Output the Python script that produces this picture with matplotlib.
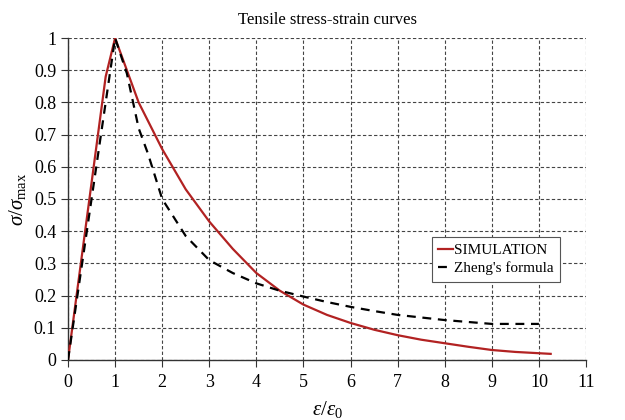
import numpy as np
import matplotlib
matplotlib.use('Agg')
import matplotlib.pyplot as plt

plt.rcParams['font.family'] = ['Liberation Serif', 'DejaVu Serif']
plt.rcParams['mathtext.fontset'] = 'custom'
plt.rcParams['mathtext.rm'] = 'Liberation Serif'
plt.rcParams['mathtext.it'] = 'Liberation Serif:italic'

# simulation curve
sim_x = [0, 0.8, 1.0, 1.25, 1.5, 2.0, 2.5, 3.0, 3.5, 4.0, 4.5, 5.0, 5.5, 6.0,
         6.5, 7.0, 7.5, 8.0, 8.5, 9.0, 9.5, 10.0, 10.25]
sim_y = [0, 0.88, 1.0, 0.9, 0.8, 0.655, 0.53, 0.43, 0.345, 0.27, 0.215,
         0.172, 0.14, 0.115, 0.094, 0.077, 0.063, 0.052, 0.041, 0.031,
         0.025, 0.021, 0.019]

# Zheng's formula
zh_x = [0, 0.5, 1.0, 1.25, 1.5, 1.7, 2.0, 2.5, 3.0, 3.5, 4.0, 4.5, 5.0, 5.5,
        6.0, 6.5, 7.0, 7.5, 8.0, 8.5, 9.0, 9.5, 10.0]
zh_y = [0, 0.5, 1.0, 0.89, 0.72, 0.64, 0.5, 0.385, 0.31, 0.27, 0.238, 0.215,
        0.197, 0.18, 0.165, 0.152, 0.14, 0.132, 0.124, 0.118, 0.112, 0.112,
        0.112]

x_ticks = np.arange(0, 12, 1)
y_ticks = np.round(np.arange(0, 1.01, 0.1), 1)

fig = plt.figure(figsize=(6.25, 4.2), dpi=100)
ax = fig.add_axes([0.1088, 0.1429, 0.8288, 0.7666])

ax.plot(sim_x, sim_y, color='#b22222', lw=1.6, label='SIMULATION', zorder=3)
ax.plot(zh_x, zh_y, color='black', lw=1.6, ls=(0, (4, 3)),
        label="Zheng's formula", zorder=3)

ax.set_xlim(0, 11)
ax.set_ylim(0, 1)
ax.set_xticks(x_ticks)
ax.set_yticks(y_ticks)
ax.set_xticklabels([str(t) for t in x_ticks])
ax.set_yticklabels(['0'] + ['%.1f' % t for t in y_ticks[1:-1]] + ['1'])

ax.grid(True, color='#444444', ls=(0, (3, 2)), lw=0.8)
ax.spines['top'].set_visible(False)
ax.spines['right'].set_visible(False)
for s in ['left', 'bottom']:
    ax.spines[s].set_color('#333333')
    ax.spines[s].set_linewidth(1.0)
ax.tick_params(axis='both', labelsize=13, direction='out', length=5,
               color='#333333')
ax.tick_params(axis='x', pad=5)

ax.set_title('Tensile stress-strain curves', fontsize=12, pad=10)
ax.set_xlabel(r'$\mathit{\varepsilon}/\mathit{\varepsilon}_0$', fontsize=15,
              labelpad=6)
ax.set_ylabel(r'$\mathit{\sigma}/\mathit{\sigma}_{\max}$', fontsize=15,
              labelpad=4)

leg = ax.legend(loc='upper left', bbox_to_anchor=(0.687, 0.405),
                fontsize=11, handlelength=1.0, handletextpad=0.1,
                borderpad=0.4, labelspacing=0.3, fancybox=False,
                framealpha=1, edgecolor='#555555')
leg.get_frame().set_linewidth(0.8)

fig.savefig('out.png', dpi=100)
